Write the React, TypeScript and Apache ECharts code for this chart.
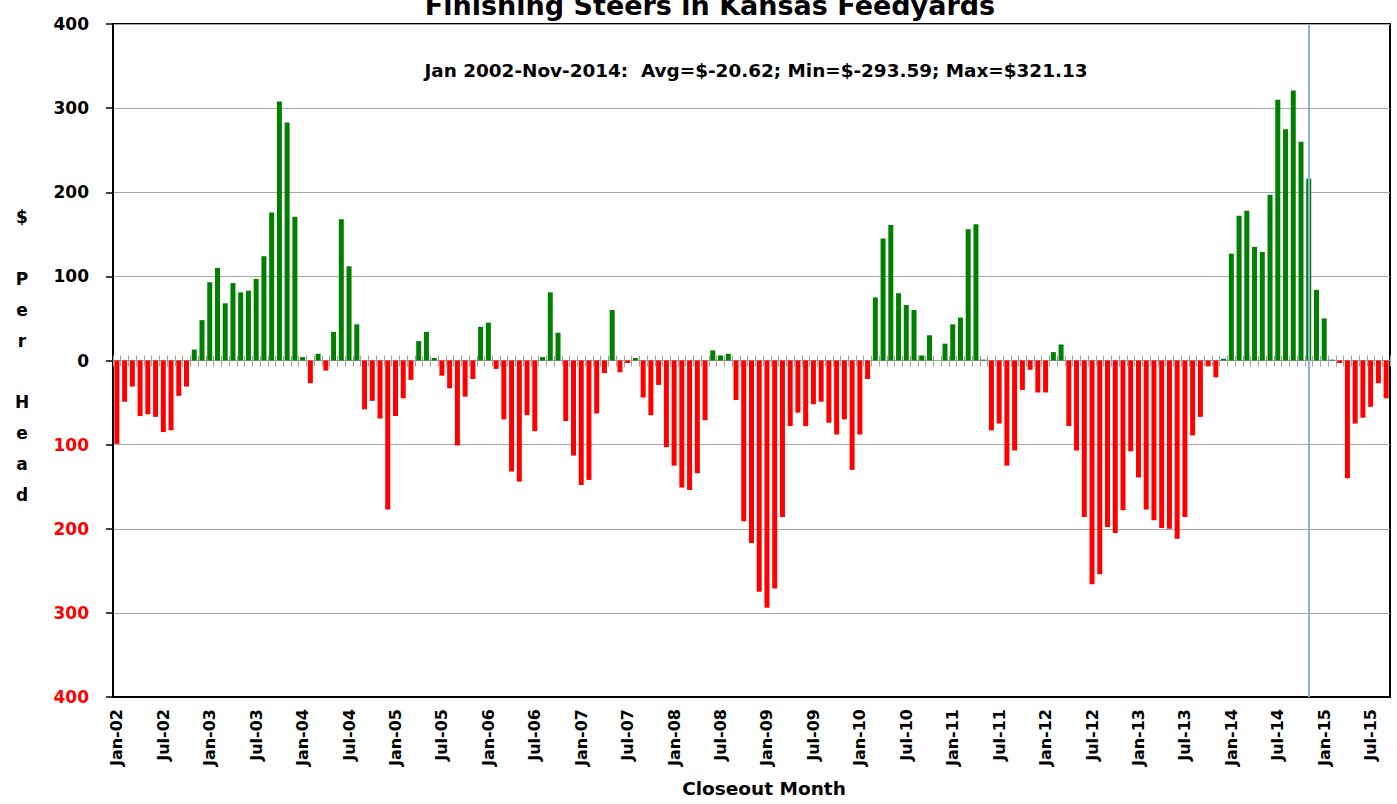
import React, { useEffect, useRef } from "react";
import * as echarts from "echarts";

const MONTHS = ["Jan", "Feb", "Mar", "Apr", "May", "Jun", "Jul", "Aug", "Sep", "Oct", "Nov", "Dec"];
const START_YEAR = 2002;

const profit2002 = [-99, -49, -31, -66, -64, -67, -85, -83, -42, -31, 13, 48];
const profit2003 = [93, 110, 68, 92, 81, 83, 97, 124, 176, 308, 283, 171];
const profit2004 = [4, -27, 8, -12, 34, 168, 112, 43, -58, -48, -69, -177];
const profit2005 = [-66, -45, -23, 23, 34, 3, -18, -33, -101, -43, -22, 40];
const profit2006 = [45, -10, -70, -132, -144, -65, -84, 4, 81, 33, -72, -113];
const profit2007 = [-148, -142, -63, -15, 60, -14, -3, 3, -44, -65, -29, -103];
const profit2008 = [-125, -151, -154, -134, -71, 12, 6, 8, -47, -191, -217, -275];
const profit2009 = [-294, -271, -186, -78, -62, -78, -52, -49, -74, -88, -70, -130];
const profit2010 = [-88, -22, 75, 145, 161, 80, 66, 60, 6, 30, 0, 20];
const profit2011 = [43, 51, 156, 162, 1, -83, -75, -125, -107, -35, -11, -38];
const profit2012 = [-38, 10, 19, -78, -107, -186, -266, -254, -198, -205, -178, -108];
const profit2013 = [-139, -177, -190, -199, -200, -212, -186, -89, -67, -7, -20, 2];
const profit2014 = [127, 172, 178, 135, 129, 197, 310, 275, 321, 260, 216, 84];
const profit2015 = [50, 1, -3, -140, -75, -68, -55, -27, -45];

const values: number[] = [
  ...profit2002, ...profit2003, ...profit2004, ...profit2005, ...profit2006,
  ...profit2007, ...profit2008, ...profit2009, ...profit2010, ...profit2011,
  ...profit2012, ...profit2013, ...profit2014, ...profit2015,
];

const categories: string[] = values.map((_, i) => {
  const y = START_YEAR + Math.floor(i / 12);
  return MONTHS[i % 12] + "-" + String(y % 100).padStart(2, "0");
});

const TITLE = "Finishing Steers in Kansas Feedyards";
const SUBTITLE = "Jan 2002-Nov-2014:  Avg=$-20.62; Min=$-293.59; Max=$321.13";
const Y_NAME = "$\n\nP\ne\nr\n\nH\ne\na\nd";
const X_NAME = "Closeout Month";
const MARK_MONTH = "Nov-14";

const GREEN = "#008000";
const RED = "#ff0000";
const FONT = "'DejaVu Sans', sans-serif";

export default function App() {
  const ref = useRef<HTMLDivElement>(null);
  useEffect(() => {
    if (!ref.current) return;
    const chart = echarts.init(ref.current, null, { renderer: "svg" });
    const grid = { left: 113, right: 7, top: 24, bottom: 107 };
    chart.setOption({
      animation: false,
      backgroundColor: "#fff",
      grid: { ...grid, show: true, borderColor: "#000", borderWidth: 2, backgroundColor: "transparent" },
      xAxis: [
        {
          type: "category",
          data: categories,
          position: "bottom",
          axisLine: { onZero: false, lineStyle: { color: "#000", width: 2 } },
          axisTick: { show: false },
          axisLabel: {
            interval: 5,
            rotate: 90,
            margin: 12,
            fontFamily: FONT,
            fontWeight: "bold",
            fontSize: 16,
            color: "#000",
          },
          splitLine: { show: false },
        },
        {
          type: "category",
          data: categories,
          position: "bottom",
          axisLine: { onZero: true, onZeroAxisIndex: 0, lineStyle: { color: "#a0a0a0", width: 1 } },
          axisTick: { show: true, interval: 0, length: 6, lineStyle: { color: "#a0a0a0" } },
          axisLabel: { show: false },
          splitLine: { show: false },
        },
        {
          type: "category",
          data: categories,
          position: "top",
          axisLine: { onZero: true, onZeroAxisIndex: 1, lineStyle: { color: "#a0a0a0", width: 1 } },
          axisTick: { show: true, inside: false, interval: 0, length: 5, lineStyle: { color: "#a0a0a0" } },
          axisLabel: { show: false },
          splitLine: { show: false },
        },
      ],
      yAxis: [
        {
          type: "value",
          min: -400,
          max: 400,
          interval: 100,
          axisLine: { show: true, lineStyle: { color: "#000", width: 2 } },
          axisTick: { show: true, length: 7, lineStyle: { color: "#000", width: 1.5 } },
          axisLabel: {
            margin: 24,
            fontFamily: FONT,
            fontWeight: "bold",
            fontSize: 17,
            formatter: (v: number) => String(Math.abs(v)),
            color: (v: any) => (Number(v) < 0 ? RED : "#000"),
          },
          splitLine: { lineStyle: { color: "#a6a6a6", width: 1 } },
        },
        {
          type: "value",
          min: -400,
          max: 400,
          interval: 100,
          position: "right",
          axisLine: { show: false },
          axisTick: { show: false },
          axisLabel: { show: false },
          splitLine: { show: false },
        },
      ],
      series: [
        {
          type: "bar",
          xAxisIndex: 0,
          yAxisIndex: 0,
          barWidth: 5,
          data: values.map((v) => ({ value: v, itemStyle: { color: v >= 0 ? GREEN : RED } })),
          markLine: {
            silent: true,
            symbol: "none",
            label: { show: false },
            lineStyle: { color: "#8db3e2", width: 2, type: "solid" },
            data: [{ xAxis: MARK_MONTH }],
          },
        },
      ],
      graphic: [
        {
          type: "text",
          x: 710,
          y: 19,
          style: {
            text: TITLE,
            fontFamily: FONT,
            fontWeight: "bold",
            fontSize: 27,
            fill: "#000",
            textAlign: "center",
            textVerticalAlign: "bottom",
          },
        },
        {
          type: "text",
          x: 756,
          y: 70,
          style: {
            text: SUBTITLE,
            fontFamily: FONT,
            fontWeight: "bold",
            fontSize: 18.4,
            fill: "#000",
            textAlign: "center",
            textVerticalAlign: "middle",
          },
        },
        {
          type: "text",
          x: 22,
          y: 202,
          style: {
            text: Y_NAME,
            fontFamily: FONT,
            fontWeight: "bold",
            fontSize: 17,
            lineHeight: 30.8,
            fill: "#000",
            textAlign: "center",
            textVerticalAlign: "top",
          },
        },
        {
          type: "text",
          x: 764,
          y: 788,
          style: {
            text: X_NAME,
            fontFamily: FONT,
            fontWeight: "bold",
            fontSize: 18.5,
            fill: "#000",
            textAlign: "center",
            textVerticalAlign: "middle",
          },
        },
      ],
    });
    return () => chart.dispose();
  }, []);
  return (
    <div
      ref={ref}
      style={{ position: "fixed", left: 0, top: 0, width: 1397, height: 804, background: "#fff" }}
    />
  );
}
